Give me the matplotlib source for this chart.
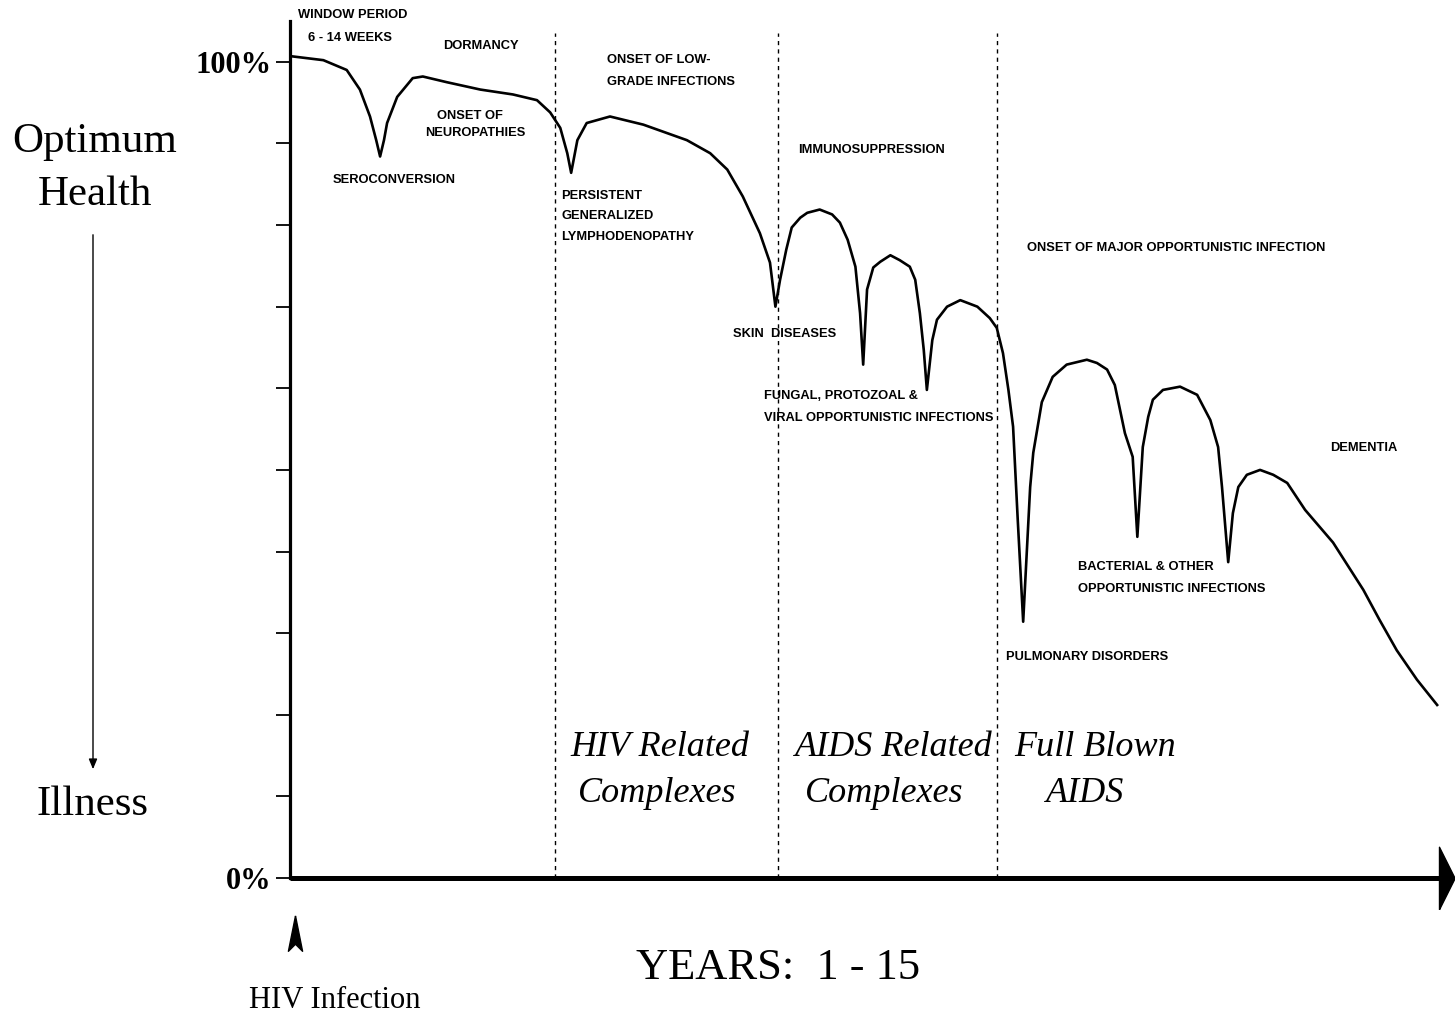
import matplotlib
matplotlib.use('Agg')
import matplotlib.pyplot as plt

# health curve: time in years, health in % of optimum
years = [0.00, 0.43, 0.73, 0.90, 1.03, 1.11, 1.16, 1.21, 1.25, 1.38, 1.58, 1.71, 2.02,
         2.45, 2.87, 3.18, 3.35, 3.48, 3.57, 3.62, 3.70, 3.82, 4.12, 4.55, 5.11, 5.41,
         5.63, 5.83, 6.05, 6.18, 6.25,
         6.31, 6.39, 6.46, 6.57, 6.66, 6.82, 6.98, 7.08, 7.18, 7.28, 7.34, 7.38,
         7.43, 7.51, 7.60, 7.73, 7.85, 7.98, 8.05, 8.11, 8.16, 8.20,
         8.27, 8.33, 8.46, 8.63, 8.85, 9.01, 9.10, 9.18, 9.25, 9.31, 9.37, 9.44,
         9.53, 9.57, 9.68, 9.82, 10.00, 10.26, 10.39, 10.52, 10.62, 10.75, 10.85, 10.91,
         10.98, 11.05, 11.11, 11.24, 11.46, 11.68, 11.85, 11.95, 12.00, 12.08,
         12.14, 12.21, 12.32, 12.49, 12.66, 12.84, 13.07, 13.43, 13.82, 14.03, 14.25,
         14.51, 14.77]
health = [100.7, 100.2, 99.0, 96.6, 93.3, 90.4, 88.4, 90.4, 92.5, 95.7, 98.0, 98.2, 97.5,
          96.6, 96.0, 95.3, 93.8, 91.9, 88.8, 86.4, 90.4, 92.5, 93.3, 92.3, 90.4, 88.8,
          86.8, 83.5, 79.0, 75.4, 70.0,
          73.3, 77.0, 79.7, 80.9, 81.5, 81.9, 81.3, 80.3, 78.2, 74.9, 69.2, 62.9,
          72.1, 74.8, 75.5, 76.3, 75.7, 74.9, 73.3, 69.2, 64.7, 59.8,
          65.9, 68.4, 70.0, 70.8, 70.0, 68.6, 67.4, 64.3, 59.8, 55.3, 43.9, 31.4,
          47.9, 52.1, 58.3, 61.4, 62.9, 63.5, 63.1, 62.3, 60.4, 54.5, 51.6, 41.8,
          52.8, 56.5, 58.6, 59.8, 60.2, 59.2, 56.1, 52.8, 47.9, 38.7,
          44.7, 47.9, 49.4, 50.0, 49.4, 48.4, 45.1, 41.1, 35.3, 31.6, 27.9,
          24.3, 21.2]

# stage boundaries (years)
stage_bounds = [3.41, 6.28, 9.10]
stage_line1 = ['HIV Related', 'AIDS Related', 'Full Blown']
stage_line2 = ['Complexes', 'Complexes', 'AIDS']

W, H = 1455, 1017
fig = plt.figure(figsize=(W / 100, H / 100), dpi=100)
ax = fig.add_axes([290 / W, 139 / H, 1165 / W, 857 / H])
ax.set_xlim(0, 15)
ax.set_ylim(0, 105)

serif = 'Liberation Serif'
sans = 'Liberation Sans'


def fx(px):
    return px / W


def fy(py):
    return 1 - py / H


ax.plot(years, health, color='black', lw=1.9, solid_joinstyle='round')
ax.vlines(stage_bounds, 0, 103.5, colors='black', linestyles=(0, (3, 3)), lw=1.0,
          clip_on=False)

for s in ['top', 'right']:
    ax.spines[s].set_visible(False)
ax.spines['left'].set_linewidth(2.3)
ax.spines['bottom'].set_linewidth(3.6)
ax.spines['bottom'].set_bounds(0, 14.8)
ax.spines['bottom'].set_capstyle('butt')
ax.set_xticks([])
ax.set_yticks(range(0, 101, 10))
ax.set_yticklabels(['0%'] + [''] * 9 + ['100%'])
ax.tick_params(axis='y', length=10, width=1.3, pad=3)
for lab in ax.get_yticklabels():
    lab.set_fontfamily(serif)
    lab.set_fontweight('bold')
    lab.set_fontsize(22)

# arrow head at the end of the time axis
ax.plot([14.8], [0], marker=[(0, -2), (1, 0), (0, 2), (0, -2)], markersize=45,
        color='black', clip_on=False)

# small event labels
events = [
    ('WINDOW PERIOD', 298, 15), ('6 - 14 WEEKS', 308, 38), ('DORMANCY', 443, 46),
    ('ONSET OF', 437, 116), ('NEUROPATHIES', 425, 133), ('SEROCONVERSION', 333, 180),
    ('ONSET OF LOW-', 607, 60), ('GRADE INFECTIONS', 607, 82),
    ('PERSISTENT', 561, 196), ('GENERALIZED', 561, 216), ('LYMPHODENOPATHY', 561, 237),
    ('IMMUNOSUPPRESSION', 798, 150), ('SKIN  DISEASES', 733, 334),
    ('FUNGAL, PROTOZOAL &', 764, 396), ('VIRAL OPPORTUNISTIC INFECTIONS', 764, 418),
    ('ONSET OF MAJOR OPPORTUNISTIC INFECTION', 1027, 248), ('DEMENTIA', 1330, 448),
    ('BACTERIAL & OTHER', 1078, 567), ('OPPORTUNISTIC INFECTIONS', 1078, 589),
    ('PULMONARY DISORDERS', 1006, 657),
]
for txt, x, y in events:
    fig.text(fx(x), fy(y), txt, family=sans, fontweight='bold', fontsize=9.3,
             ha='left', va='center')

# stage names
line1_x = [660, 894, 1095]
line2_x = [657, 884, 1085]
for t1, t2, x1, x2 in zip(stage_line1, stage_line2, line1_x, line2_x):
    fig.text(fx(x1), fy(747), t1, family=serif, style='italic', fontsize=26,
             ha='center', va='center')
    fig.text(fx(x2), fy(794), t2, family=serif, style='italic', fontsize=26,
             ha='center', va='center')

# left side: health scale
fig.text(fx(95), fy(142), 'Optimum', family=serif, fontsize=31, ha='center', va='center')
fig.text(fx(95), fy(195), 'Health', family=serif, fontsize=31, ha='center', va='center')
fig.text(fx(93), fy(805), 'Illness', family=serif, fontsize=31, ha='center', va='center')
fig.add_artist(matplotlib.patches.FancyArrowPatch(
    (fx(93), fy(232)), (fx(93), fy(772)), transform=fig.transFigure,
    arrowstyle='-|>,head_length=6,head_width=2.5', color='black', lw=1.0))

# bottom texts
fig.text(fx(778), fy(968), 'YEARS:  1 - 15', family=serif, fontsize=32,
         ha='center', va='center')
fig.text(fx(335), fy(1000), 'HIV Infection', family=serif, fontsize=22,
         ha='center', va='center')
ax.plot([0.06], [-7.5], marker=[(0, 2), (0.6, -1), (0, -0.4), (-0.6, -1), (0, 2)],
        markersize=34, color='black', clip_on=False)

fig.savefig('out.png', dpi=100)
